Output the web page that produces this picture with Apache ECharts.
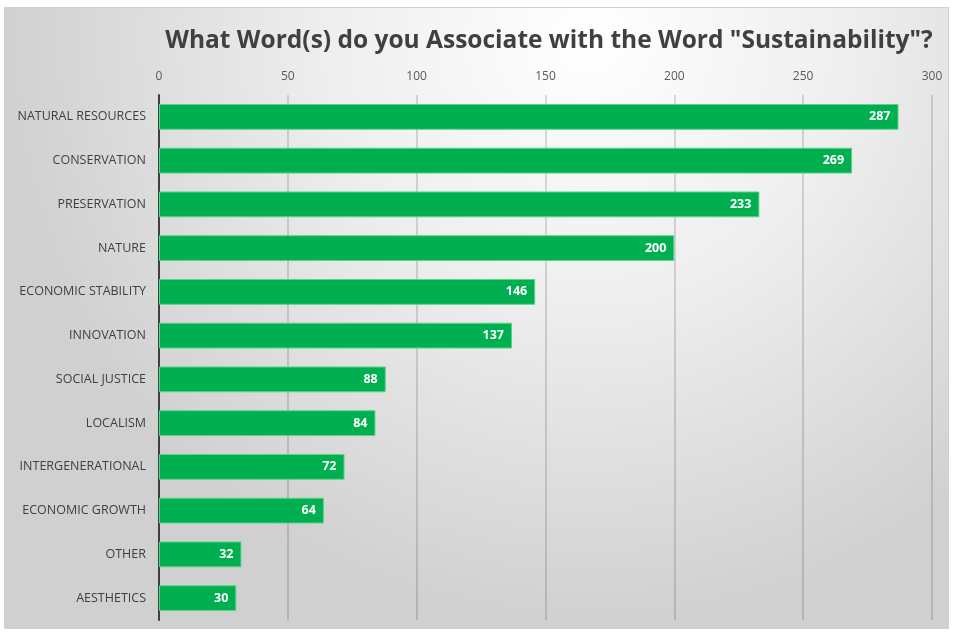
<!DOCTYPE html>
<html>
<head>
<meta charset="utf-8">
<script src="https://cdn.jsdelivr.net/npm/echarts@6/dist/echarts.min.js"></script>
<style>
html,body{margin:0;padding:0;background:#fff;width:954px;height:634px;overflow:hidden;}
#chart{position:absolute;left:4px;top:7px;width:945px;height:622px;border:1px solid #d0d0d0;box-sizing:border-box;}
</style>
</head>
<body>
<div id="chart"></div>
<script>
const titleText = 'What Word(s) do you Associate with the Word "Sustainability"?';
const categories = ['NATURAL RESOURCES','CONSERVATION','PRESERVATION','NATURE','ECONOMIC STABILITY','INNOVATION','SOCIAL JUSTICE','LOCALISM','INTERGENERATIONAL','ECONOMIC GROWTH','OTHER','AESTHETICS'];
const counts = [287,269,233,200,146,137,88,84,72,64,32,30];
const axisMin = 0, axisMax = 300, axisStep = 50;

const chart = echarts.init(document.getElementById('chart'), null, {renderer:'canvas'});
chart.setOption({
  backgroundColor: new echarts.graphic.RadialGradient(0.62, 0.05, 0.95, [
    {offset:0, color:'#ffffff'},
    {offset:0.45, color:'#eeeeee'},
    {offset:1, color:'#d0d0d0'}
  ]),
  animation:false,
  title:{
    text:titleText,
    left:539, top:16, textAlign:'center',
    textStyle:{fontFamily:'Open Sans', fontWeight:'bold', fontSize:24.5, color:'#404040'}
  },
  grid:{left:154, right:16, top:87, bottom:8, containLabel:false},
  xAxis:{
    type:'value', position:'top', min:axisMin, max:axisMax, interval:axisStep,
    axisLine:{show:false}, axisTick:{show:false},
    axisLabel:{color:'#595959', fontFamily:'Open Sans', fontSize:12, margin:12},
    splitLine:{show:true, lineStyle:{color:'rgba(0,0,0,0.18)', width:1.5}}
  },
  yAxis:{
    type:'category', data:categories, inverse:true,
    axisLine:{show:true, lineStyle:{color:'#404040', width:2}},
    axisTick:{show:false},
    axisLabel:{color:'#404040', fontFamily:'Open Sans', fontSize:12.5, margin:13}
  },
  series:[{
    type:'bar', data:counts, barCategoryGap:'41%',
    itemStyle:{color:'#00b050', borderColor:'#5cd38b', borderWidth:1},
    label:{show:true, position:'insideRight', color:'#ffffff', fontFamily:'Open Sans', fontWeight:'bold', fontSize:12.5, distance:8}
  }]
});
</script>
</body>
</html>
